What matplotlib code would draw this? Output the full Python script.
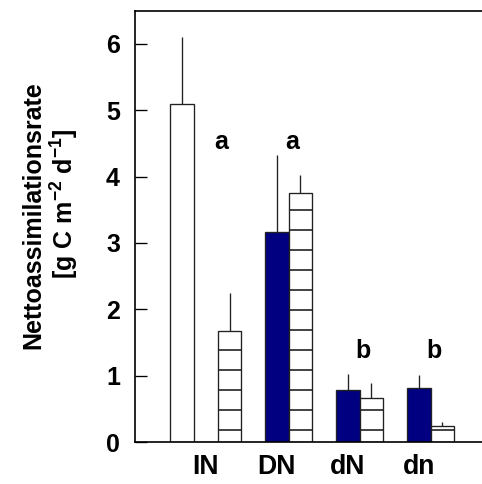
import numpy as np
import matplotlib
matplotlib.use("Agg")
import matplotlib.pyplot as plt

plt.rcParams['font.family'] = ['Liberation Sans', 'DejaVu Sans']
plt.rcParams['font.weight'] = 'bold'
plt.rcParams['hatch.linewidth'] = 1.0
plt.rcParams['mathtext.fontset'] = 'custom'
plt.rcParams['mathtext.rm'] = 'Liberation Sans:bold'
plt.rcParams['mathtext.default'] = 'rm'

# treatments and net assimilation rate (g C m-2 d-1)
groups = ["IN", "DN", "dN", "dn"]
open_vals = [5.1, None, None, None]
open_err = [1.0, None, None, None]
blue_vals = [0.0, 3.17, 0.79, 0.81]
blue_err = [0.0, 1.15, 0.24, 0.20]
hatch_vals = [1.68, 3.75, 0.67, 0.24]
hatch_err = [0.56, 0.28, 0.22, 0.06]

# significance letters
sig_labels = ["a", "a", "b", "b"]
sig_y = [4.42, 4.42, 1.26, 1.26]

dpi = 120
fig = plt.figure(figsize=(482 / dpi, 484 / dpi), dpi=dpi)
ax = fig.add_axes([135 / 482, 42 / 484, 354.6 / 482, 431.3 / 484])

x = np.arange(len(groups))
w = 1 / 3
navy = '#000080'
err_style = dict(ecolor='#222222', elinewidth=0.8, capsize=0)

# open bar only for the first group
ax.bar(x[0] - w, open_vals[0], w, color='white', edgecolor='#222222', linewidth=0.8,
       yerr=[[0], [open_err[0]]], error_kw=err_style)
ax.bar(x, blue_vals, w, color=navy, edgecolor='#222222', linewidth=0.8,
       yerr=[np.zeros(len(x)), blue_err], error_kw=err_style)
ax.bar(x + w, hatch_vals, w, color='white', edgecolor='#222222', linewidth=0.8, hatch='-',
       yerr=[np.zeros(len(x)), hatch_err], error_kw=err_style)

for xi, lab, yy in zip(x, sig_labels, sig_y):
    ax.text(xi + 0.21, yy, lab, ha='center', va='baseline', fontsize=15, fontweight='bold')

ax.set_xlim(-1, 4)
ax.set_ylim(0, 6.5)
ax.set_yticks(range(7))
ax.set_xticks(x)
ax.set_xticklabels(groups, fontsize=16, fontweight='bold')
ax.tick_params(axis='x', length=0, pad=7)
ax.tick_params(axis='y', direction='in', length=7, width=0.8, pad=9, labelsize=15)
for lab in ax.get_yticklabels():
    lab.set_fontweight('bold')

ax.spines['right'].set_visible(False)
for s in ['left', 'top', 'bottom']:
    ax.spines[s].set_linewidth(1.0)

fig.text(33 / 482, 1 - 215 / 484, "Nettoassimilationsrate", rotation=90,
         ha='center', va='center', fontsize=15, fontweight='bold')
fig.text(65 / 482, 1 - 204 / 484, r"[g C m$^{-2}$ d$^{-1}$]", rotation=90,
         ha='center', va='center', fontsize=15, fontweight='bold')

fig.savefig("out.png", dpi=dpi)
